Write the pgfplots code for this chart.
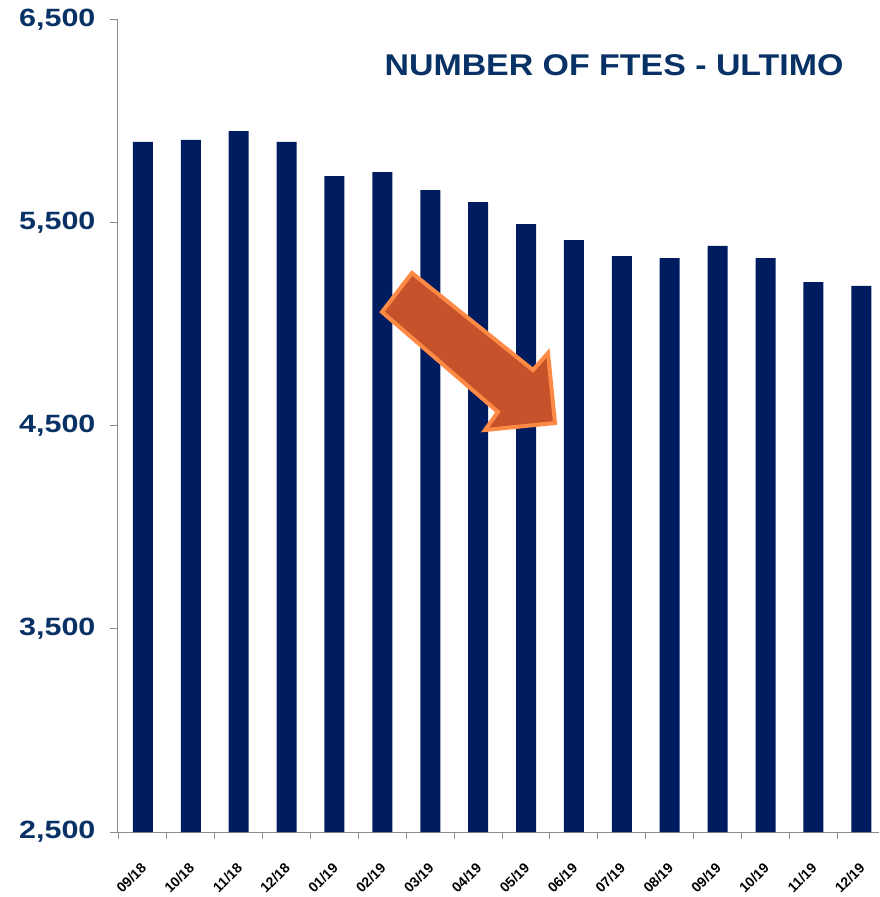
\documentclass[border=0pt]{standalone}
\usepackage{pgfplots}
\pgfplotsset{compat=1.18}
\usepackage{fontspec}
\setmainfont{Liberation Sans}
\definecolor{barnavy}{RGB}{0,28,96}
\definecolor{txtnavy}{RGB}{8,50,102}
\definecolor{axgray}{RGB}{140,140,140}
\definecolor{arrowfill}{RGB}{197,82,42}
\definecolor{arrowedge}{RGB}{255,138,69}
\begin{document}
\begin{tikzpicture}
\begin{axis}[
  at={(0pt,0pt)}, anchor=south west,
  scale only axis, width=761pt, height=812pt,
  xmin=-0.52, xmax=15.37, ymin=2500, ymax=6500,
  axis x line=bottom, axis y line=left,
  axis line style={-, axgray, line width=1pt},
  ytick={2500,3500,4500,5500,6500},
  yticklabel={\scalebox{1.22}[1]{\pgfmathprintnumber{\tick}}},
  yticklabel style={font=\bfseries\fontsize{25}{25}\selectfont, text=txtnavy, xshift=-11pt},
  /pgf/number format/assume math mode=true,
  /pgf/number format/.cd, fixed, precision=0, 1000 sep={,}, /pgfplots/.cd,
  tick align=outside,
  y tick style={axgray, line width=1pt},
  major tick length=8pt,
  xtick={0,...,15},
  major x tick style={draw=none},
  minor xtick={-0.5,0.5,...,15.5},
  minor x tick style={axgray, line width=1pt},
  minor tick length=7pt,
  xticklabels={09/18,10/18,11/18,12/18,01/19,02/19,03/19,04/19,05/19,06/19,07/19,08/19,09/19,10/19,11/19,12/19},
  xticklabel style={font=\bfseries\fontsize{14}{14}\selectfont, rotate=45, anchor=north east, text=black, yshift=-10pt, xshift=-14pt},
  clip=false,
]
\addplot[ybar, bar width=20pt, fill=barnavy, draw=none] coordinates {
(0,5899) (1,5909) (2,5953) (3,5899) (4,5731) (5,5751) (6,5662) (7,5603)
(8,5495) (9,5416) (10,5337) (11,5327) (12,5387) (13,5327) (14,5209) (15,5190)
};
\end{axis}
\node[font=\bfseries\fontsize{30}{30}\selectfont, text=txtnavy] at (496pt,767pt) {\scalebox{1.13}[1]{NUMBER OF FTES - ULTIMO}};
\draw[fill=arrowfill, draw=arrowedge, line width=4pt, line join=miter]
  (294pt,559pt) -- (415pt,462pt) -- (430pt,479pt) -- (437pt,409pt) -- (367pt,402pt) -- (380pt,420pt) -- (264pt,520pt) -- cycle;
\pgfresetboundingbox
\path[use as bounding box] (-118pt,-65pt) rectangle (761pt,832pt);
\end{tikzpicture}
\end{document}
